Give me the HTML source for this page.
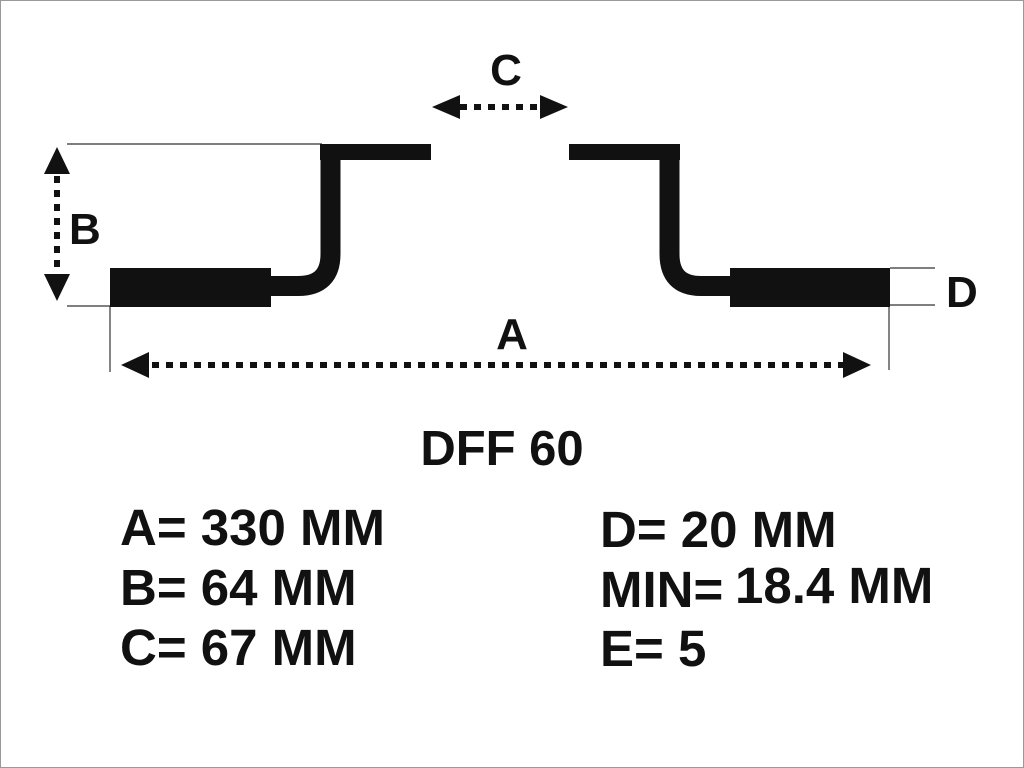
<!DOCTYPE html>
<html><head><style>
html,body{margin:0;padding:0;background:#fff;}
svg{display:block;}
text{font-family:"Liberation Sans",Arial,sans-serif;font-weight:bold;fill:#111;}
</style></head><body>
<svg width="1024" height="768" viewBox="0 0 1024 768" xmlns="http://www.w3.org/2000/svg">
<rect x="0.5" y="0.5" width="1023" height="767" fill="#fff" stroke="#999" stroke-width="1"/>
<g stroke="#333" stroke-width="1.2" fill="none">
<line x1="67" y1="144" x2="322" y2="144"/>
<line x1="67" y1="306" x2="110" y2="306"/>
<line x1="110" y1="306" x2="110" y2="372"/>
<line x1="890" y1="268" x2="935" y2="268"/>
<line x1="890" y1="305" x2="935" y2="305"/>
<line x1="889" y1="305" x2="889" y2="370"/>
</g>
<rect x="110" y="268" width="161" height="39" fill="#111"/>
<rect x="730" y="268" width="160" height="39" fill="#111"/>
<rect x="320" y="144" width="111" height="16" fill="#111"/>
<rect x="569" y="144" width="111" height="16" fill="#111"/>
<path d="M268,286 H298 Q330.5,286 330.5,254 V150" fill="none" stroke="#111" stroke-width="20"/>
<path d="M669.5,150 V254 Q669.5,286 701,286 H733" fill="none" stroke="#111" stroke-width="20"/>
<g stroke="#111" stroke-width="6" stroke-dasharray="7,7" fill="none">
<line x1="57" y1="176" x2="57" y2="275"/>
<line x1="152" y1="365" x2="845" y2="365"/>
<line x1="460" y1="107" x2="543" y2="107"/>
</g>
<g fill="#111">
<polygon points="57,147 44,174 70,174"/>
<polygon points="57,301 44,274 70,274"/>
<polygon points="121,365 149,352 149,378"/>
<polygon points="871,365 843,352 843,378"/>
<polygon points="432,107 460,95 460,119"/>
<polygon points="568,107 540,95 540,119"/>
</g>
<text x="69" y="244" font-size="44">B</text>
<text x="946" y="307" font-size="44">D</text>
<text x="512" y="349" font-size="44" text-anchor="middle">A</text>
<text x="506" y="85" font-size="44" text-anchor="middle">C</text>
<text x="502" y="465" font-size="49" text-anchor="middle">DFF 60</text>
<text x="120" y="545" font-size="51">A= 330 MM</text>
<text x="120" y="605" font-size="51">B= 64 MM</text>
<text x="120" y="665" font-size="51">C= 67 MM</text>
<text x="600" y="547" font-size="51">D= 20 MM</text>
<text x="600" y="607" font-size="51">MIN=</text>
<text x="735" y="603" font-size="51">18.4 MM</text>
<text x="600" y="666" font-size="51">E= 5</text>
</svg>
</body></html>
